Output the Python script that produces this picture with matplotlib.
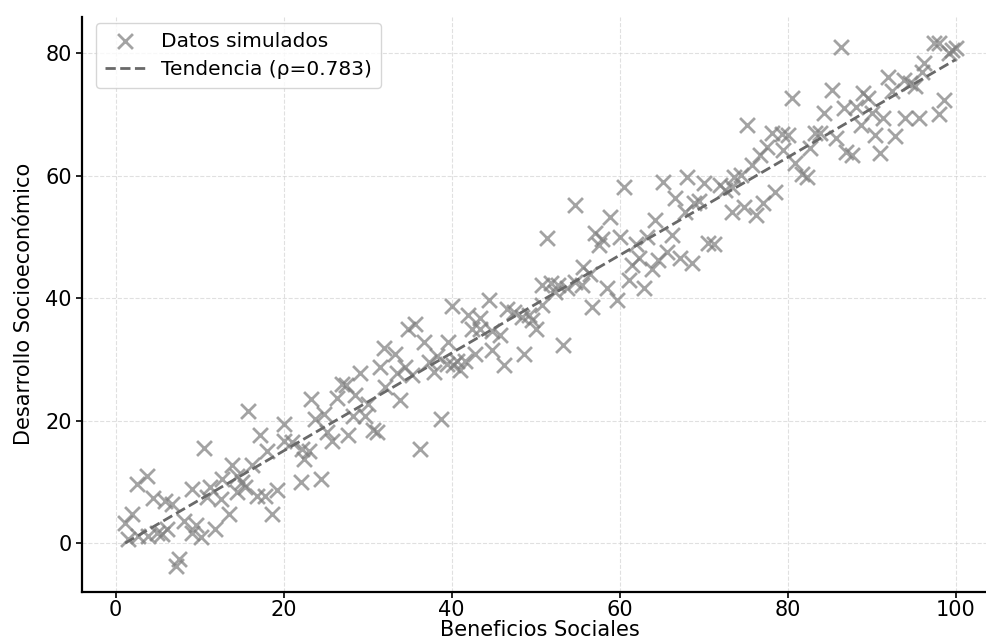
import numpy as np
import matplotlib
matplotlib.use("Agg")
import matplotlib.pyplot as plt

beneficios = [
    10.5, 3.7, 2.5, 4.5, 5.9, 6.7, 9.1, 10.9, 1.95, 1.15, 1.5, 2.7, 3.9, 4.9, 6.1, 5.5, 8.1, 9.6, 9.1, 10.2, 7.5, 7.2,
    15.8, 20, 17.2, 20, 21, 18, 22.2, 22.4, 13.9, 16.2, 12.7, 14.5, 11.3, 15, 15.4, 14.5, 12.5, 16.8, 17.8, 19.2, 13.5, 18.6, 22.1, 11.9,
    23.3, 34.8, 31.9, 33.3, 31.5, 29.1, 27, 27.4, 33.5, 34.4, 32.1, 26.4, 28.5, 30.1, 33.9, 24.8, 23.8, 28.3, 29.7, 25.2, 27.7, 30.6, 31.1, 25.8, 23, 24.4,
    44.4, 40, 46.6, 42, 43.4, 35.7, 42.4, 43.4, 44.8, 45.8, 36.7, 39.6, 38.3, 42.8, 44.8, 37.3, 40.6, 41.6, 39.5, 40.2, 46.2, 37.9, 41, 35.3, 38.7, 36.3,
    54.7, 58.9, 51.4, 57.1, 57.9, 57.6, 55.7, 56.5, 50.8, 51.8, 52.7, 53.7, 54.7, 55.5, 58.5, 52.3, 50.8, 56.7, 47.4, 48.4, 49.2, 49.6, 50, 53.3, 48.6,
    68, 65.2, 70, 60.5, 66.6, 68.8, 69.5, 67.8, 64.2, 60.1, 63.3, 66.2, 61.9, 70.5, 65.6, 67.2, 68.6, 62.3, 61.5, 64.6, 63.9, 61.1, 62.9, 59.7,
    80.5, 75.2, 78.1, 79.3, 80.1, 77.5, 79.5, 76.7, 75.8, 80.9, 81.7, 74.4, 73.6, 72, 72.6, 73.4, 78.5, 77.1, 74.8, 73.4, 76.2, 71.2,
    86.3, 92, 93.8, 85.3, 89, 92.4, 89.6, 86.7, 88.1, 84.3, 90, 94, 91.4, 88.7, 83.3, 83.9, 85.7, 90.4, 92.8, 82.7, 87, 87.7, 91, 82.3,
    97.4, 98, 99.6, 99.2, 100, 96.2, 96, 94.6, 95.2, 98.6, 98, 95.6,
]

desarrollo = [
    15.5, 10.9, 9.7, 7.3, 6.9, 6.4, 8.8, 7.5, 4.7, 3.3, 0.65, 1.2, 1.2, 1.7, 2.3, 1.5, 3.6, 2.9, 1.7, 1.0, -2.6, -3.7,
    21.5, 19.5, 17.6, 16.7, 16.5, 15.1, 15.4, 13.7, 12.7, 12.7, 10.5, 11, 9.1, 9.9, 9.1, 8.3, 7.2, 7.7, 7.7, 8.6, 4.7, 4.7, 10.0, 2.3,
    23.6, 34.9, 31.8, 30.8, 28.7, 27.7, 26, 25.8, 27.7, 28.7, 25.5, 23.7, 24.1, 22.7, 23.3, 21.1, 20.3, 20.8, 20.8, 18.1, 17.6, 18.5, 18.2, 16.7, 15.1, 10.4,
    39.7, 38.7, 38.3, 37.3, 36.7, 35.7, 35, 35, 34.7, 33.9, 32.9, 32.8, 30.5, 30.9, 31.5, 29.6, 29.8, 29.8, 29.3, 29, 29, 27.9, 28.2, 27.4, 20.3, 15.4,
    55.2, 53.3, 49.8, 50.6, 49.6, 48.7, 45.1, 44, 42.1, 42.4, 42.1, 41.6, 42.7, 42.1, 41.6, 41, 38.8, 38.6, 37.7, 36.9, 37.2, 36.4, 35, 32.3, 30.9,
    59.8, 59, 58.8, 58.2, 56.3, 55.5, 55.8, 54.1, 52.7, 50, 50, 50.3, 48.9, 49, 47.6, 46.5, 45.7, 46.5, 45.4, 46.2, 44.8, 42.9, 41.6, 39.7,
    72.7, 68.3, 66.9, 66.8, 66.7, 64.7, 64.2, 63.4, 61.8, 62.1, 60.2, 60.1, 59.8, 58.5, 57.7, 58.2, 57.4, 55.5, 54.9, 54.1, 53.6, 48.9,
    81.1, 76.2, 75.7, 74, 73.5, 73.8, 72.7, 71, 71.3, 70.2, 70.2, 69.4, 69.4, 68.3, 66.9, 66.9, 66.1, 66.7, 66.5, 64.5, 63.9, 63.4, 63.7, 59.8,
    81.7, 81.7, 80.6, 80, 80.9, 78.4, 77, 75.1, 74.6, 72.4, 70, 69.4,
]

rho_label = "Tendencia (ρ=0.783)"
scatter_label = "Datos simulados"
xlabel = "Beneficios Sociales"
ylabel = "Desarrollo Socioeconómico"

x = np.array(beneficios)
y = np.array(desarrollo)

fig = plt.figure(figsize=(9.87, 6.43), dpi=100)
ax = fig.add_axes([0.0834, 0.0793, 0.927, 0.895])

ax.scatter(x, y, marker="x", s=115, linewidths=2.0, color="gray", alpha=0.72,
           label=scatter_label, zorder=3)

m, b = np.polyfit(x, y, 1)
xs = np.sort(x)
ax.plot(xs, m * xs + b, linestyle="--", color="dimgray", linewidth=2.0,
        label=rho_label, zorder=4)

ax.set_xlim(-3.95, 104.95)
ax.set_ylim(-8.0, 86.0)
ax.set_xticks([0, 20, 40, 60, 80, 100])
ax.set_yticks([0, 20, 40, 60, 80])
ax.tick_params(labelsize=15, width=1.2, length=4)
ax.tick_params(axis="x", pad=2)
ax.set_xlabel(xlabel, fontsize=15, labelpad=0)
ax.set_ylabel(ylabel, fontsize=15, labelpad=8)

ax.grid(True, linestyle="--", linewidth=0.8, color="#cccccc", alpha=0.6)
ax.set_axisbelow(True)
for side in ["top", "right"]:
    ax.spines[side].set_visible(False)
for side in ["left", "bottom"]:
    ax.spines[side].set_linewidth(1.6)

leg = ax.legend(loc="upper left", fontsize=14.5, frameon=True, fancybox=True,
                edgecolor="#cccccc", handlelength=2.0, borderpad=0.45,
                labelspacing=0.45, borderaxespad=0.3,
                bbox_to_anchor=(0.008, 1.0))

fig.savefig("out.png", dpi=100)
